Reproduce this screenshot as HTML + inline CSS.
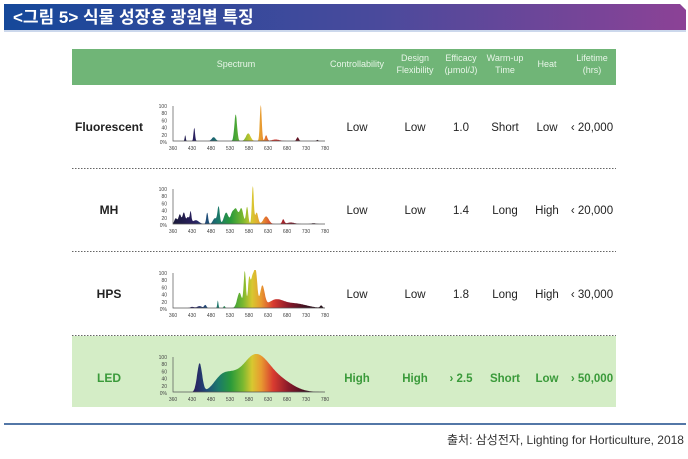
<!DOCTYPE html>
<html><head><meta charset="utf-8"><style>
body{margin:0;background:#fff;width:688px;height:454px;overflow:hidden;font-family:"Liberation Sans","Noto Sans CJK KR",sans-serif}
</style></head><body>
<svg id="s" width="688" height="454" xmlns="http://www.w3.org/2000/svg" font-family="Liberation Sans, Noto Sans CJK KR, sans-serif">
<defs>
<linearGradient id="hd" x1="0" x2="1"><stop offset="0" stop-color="#15489a"/><stop offset="0.55" stop-color="#4a4a9c"/><stop offset="1" stop-color="#8c4296"/></linearGradient>
<linearGradient id="rb" gradientUnits="userSpaceOnUse" x1="173" x2="325">
<stop offset="0" stop-color="#1a1a3a"/><stop offset="0.14" stop-color="#2a2060"/><stop offset="0.22" stop-color="#1f4a78"/><stop offset="0.3" stop-color="#1b7a6a"/><stop offset="0.38" stop-color="#2a9a3a"/><stop offset="0.46" stop-color="#7ab830"/><stop offset="0.52" stop-color="#d8c830"/><stop offset="0.58" stop-color="#e89a30"/><stop offset="0.66" stop-color="#d83a30"/><stop offset="0.76" stop-color="#8a1a2a"/><stop offset="0.88" stop-color="#3a1020"/><stop offset="1" stop-color="#201018"/></linearGradient>
</defs>
<polygon points="4,4 680,4 686,10 686,30 4,30" fill="url(#hd)"/>
<line x1="4" y1="31" x2="686" y2="31" stroke="#9ab0d8" stroke-width="1"/>
<text x="13" y="23" font-size="17" font-weight="bold" fill="#fff">&lt;그림 5&gt; 식물 성장용 광원별 특징</text>
<rect x="72" y="49" width="544" height="36" fill="#70b577"/>
<g fill="#e8f5e8" font-size="9" text-anchor="middle">
<text x="236" y="67">Spectrum</text>
<text x="357" y="67">Controllability</text>
<text x="415" y="61">Design</text><text x="415" y="73">Flexibility</text>
<text x="461" y="61">Efficacy</text><text x="461" y="73">(μmol/J)</text>
<text x="505" y="61">Warm-up</text><text x="505" y="73">Time</text>
<text x="547" y="67">Heat</text>
<text x="592" y="61">Lifetime</text><text x="592" y="73">(hrs)</text>
</g>
<rect x="72" y="336" width="544" height="71" fill="#d4edc6"/>
<g stroke="#666" stroke-dasharray="1.5,1.5" stroke-width="1">
<line x1="72" y1="168.5" x2="616" y2="168.5"/><line x1="72" y1="251.5" x2="616" y2="251.5"/><line x1="72" y1="335.5" x2="616" y2="335.5"/>
</g>
<line x1="4" y1="424" x2="686" y2="424" stroke="#1a4a8a" stroke-width="1.5"/>
<text x="684" y="444" font-size="12" text-anchor="end" fill="#333">출처: 삼성전자, Lighting for Horticulture, 2018</text>
<g id="rows"></g>
</svg>
<script>
var rows=[
{n:"Fluorescent",y:127,v:["Low","Low","1.0","Short","Low","‹ 20,000"],p:[[405,15,2],[436,35,2],[487,10,5],[545,70,3.5],[578,20,6],[611,95,2.5],[625,15,3],[650,4,10],[708,10,3],[760,3,2]],led:0},
{n:"MH",y:210,v:["Low","Low","1.4","Long","High","‹ 20,000"],p:[[370,15,5],[385,25,5],[400,30,5],[415,18,5],[425,30,3],[440,10,8],[470,30,2.5],[490,15,5],[500,45,3],[520,30,6],[535,20,4],[545,40,6],[560,40,5],[575,45,3],[590,100,2.5],[600,30,4],[625,20,7],[670,12,3],[690,4,10],[750,2,6]],led:0},
{n:"HPS",y:294,v:["Low","Low","1.8","Long","High","‹ 30,000"],p:[[430,3,6],[450,5,6],[465,8,3],[498,20,1.5],[515,5,2],[555,40,6],[569,95,3],[580,65,3],[589,80,5],[598,85,4],[615,55,6],[650,20,20],[700,12,30],[770,6,3]],led:0},
{n:"LED",y:378,v:["High","High","› 2.5","Short","Low","› 50,000"],p:[[450,75,6.5],[505,30,20],[540,40,25],[605,80,30],[660,30,35],[580,20,20]],led:1}];
var cols=[357,415,461,505,547,592];
function X(w){var i=w<430?(w-360)/70:1+(w-430)/50;return 173+i*19;}
var g=document.getElementById("rows"),h="";
rows.forEach(function(r){
 var top=r.y-24,base=r.y+14,H=38,col=r.led?"#3a9a3a":"#222";
 h+='<text x="109" y="'+(r.y+4)+'" font-size="12" font-weight="bold" text-anchor="middle" fill="'+col+'">'+r.n+'</text>';
 r.v.forEach(function(t,i){h+='<text x="'+cols[i]+'" y="'+(r.y+4)+'" font-size="11.5" text-anchor="middle" fill="'+col+'"'+(r.led?' font-weight="bold"':'')+'>'+t+'</text>';});
 var d="M"+X(360)+","+base;
 for(var w=360;w<=780;w+=1){var s=0;r.p.forEach(function(p){s+=p[1]*Math.exp(-Math.pow((w-p[0])/p[2],2)/2);});
  if(r.led){if(w<425)s=0;else if(w<435)s*=(w-425)/10;}
  s=Math.min(s,100);d+=" L"+X(w).toFixed(1)+","+(base-s*H/100).toFixed(1);}
 d+=" L"+X(780)+","+base+"Z";
 h+='<path d="'+d+'" fill="url(#rb)"/>';
 h+='<path d="M173,'+(top+3)+' V'+base+' H325" fill="none" stroke="#555" stroke-width="0.7"/>';
 ["100","80","60","40","20","0%"].forEach(function(t,i){h+='<text x="167" y="'+(top+5+i*7.2)+'" font-size="5" text-anchor="end" fill="#444">'+t+'</text>';});
 [360,430,480,530,580,630,680,730,780].forEach(function(t,i){h+='<text x="'+(173+i*19)+'" y="'+(base+9)+'" font-size="5" text-anchor="middle" fill="#444">'+t+'</text>';});
});
g.innerHTML=h;
</script>
</body></html>
